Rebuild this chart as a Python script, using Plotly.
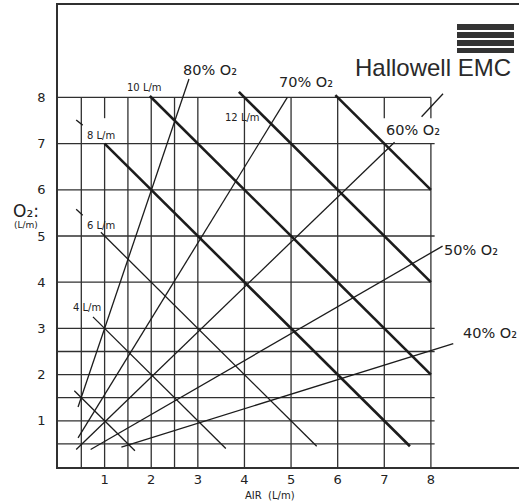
import plotly.graph_objects as go

# ---------------- data ----------------
x_ticks = [1, 2, 3, 4, 5, 6, 7, 8]
y_ticks = [1, 2, 3, 4, 5, 6, 7, 8]
v_grid = [0.5, 1, 1.5, 2, 2.5, 3, 4, 5, 6, 7, 8]
h_grid = [0.5, 1, 1.5, 2, 2.5, 3, 4, 5, 6, 7, 8]
v_gap_lines = [1, 7, 8]          # verticals broken between y=7 and ~7.55
v_gap = [7.0, 7.55]

# total-flow lines (O2 + AIR = total), drawn between x_start and x_end
flow_totals = [2, 4, 6, 8, 10, 12, 14]
flow_x_start = [0.35, 0.75, 0.92, 1.0, 1.97, 3.88, 5.95]
flow_x_end = [1.65, 3.6, 5.55, 7.55, 8.0, 8.0, 8.0]
flow_thick = [False, False, False, True, True, True, True]
flow_labels = ["", "4 L/m", "6 L/m", "8 L/m", "10 L/m", "12 L/m", ""]
flow_label_x = [0, 0.62, 0.92, 0.92, 1.86, 3.96, 0]
flow_label_y = [0, 3.46, 5.23, 7.18, 8.22, 7.57, 0]

# FiO2 lines: start and end points
fio2_names = ["80% O₂", "70% O₂", "60% O₂", "50% O₂", "40% O₂"]
fio2_x0 = [0.43, 0.43, 0.39, 0.70, 1.36]
fio2_y0 = [1.30, 0.63, 0.38, 0.38, 0.43]
fio2_x1 = [2.81, 4.92, 7.22, 8.25, 8.48]
fio2_y1 = [8.40, 8.00, 7.03, 4.78, 2.67]
fio2_label_x = [3.26, 5.32, 7.61, 8.86, 9.26]
fio2_label_y = [8.60, 8.33, 7.29, 4.69, 2.89]

# small hand ticks
tick_marks = [((0.39, 7.51), (0.53, 7.40)), ((0.39, 5.58), (0.53, 5.45)), ((7.80, 7.58), (8.26, 8.08))]

LINE = "#1c1c1c"
GRID = "#303030"
FONT = "DejaVu Sans"

W, H = 519, 503
L, R, T, B = 58, 0, 5, 36
PW, PH = W - L - R, H - T - B

def px(xp, yp):
    """pixel position -> plot-area (paper) fraction"""
    return (xp - L) / PW, (H - B - yp) / PH

fig = go.Figure()

# grid
gx, gy = [], []
for v in v_grid:
    if v in v_gap_lines:
        gx += [v, v, None, v, v, None]
        gy += [0, v_gap[0], None, v_gap[1], 8, None]
    else:
        gx += [v, v, None]
        gy += [0, 8, None]
for h in h_grid:
    end = 8.0 if h in (2, 4, 6, 8) else 8.08
    gx += [0, end, None]
    gy += [h, h, None]
fig.add_trace(go.Scatter(x=gx, y=gy, mode="lines", line=dict(color=GRID, width=1.3),
                         hoverinfo="skip", showlegend=False))

# flow lines
for thick in (False, True):
    lx, ly = [], []
    for t, xs, xe, th in zip(flow_totals, flow_x_start, flow_x_end, flow_thick):
        if th == thick:
            lx += [xs, xe, None]
            ly += [t - xs, t - xe, None]
    fig.add_trace(go.Scatter(x=lx, y=ly, mode="lines",
                             line=dict(color=LINE, width=2.6 if thick else 1.3),
                             hoverinfo="skip", showlegend=False))

# FiO2 lines
fx, fy = [], []
for a, b, c, d in zip(fio2_x0, fio2_y0, fio2_x1, fio2_y1):
    fx += [a, c, None]
    fy += [b, d, None]
for (p, q) in tick_marks:
    fx += [p[0], q[0], None]
    fy += [p[1], q[1], None]
fig.add_trace(go.Scatter(x=fx, y=fy, mode="lines", line=dict(color=LINE, width=1.3),
                         hoverinfo="skip", showlegend=False))

ann = []
for lab, x, y in zip(flow_labels, flow_label_x, flow_label_y):
    if lab:
        ann.append(dict(x=x, y=y, text=lab, showarrow=False, xref="x", yref="y",
                        xanchor="center", yanchor="middle",
                        font=dict(family=FONT, size=10, color="#222")))
for lab, x, y in zip(fio2_names, fio2_label_x, fio2_label_y):
    ann.append(dict(x=x, y=y, text=lab, showarrow=False, xref="x", yref="y",
                    xanchor="center", yanchor="middle",
                    font=dict(family=FONT, size=14.5, color="#222")))

for txt, (xp, yp), size in [("O₂:", (26, 211), 17), ("(L/m)", (26, 225), 9),
                             ("AIR  (L/m)", (270, 495), 10)]:
    X, Y = px(xp, yp)
    ann.append(dict(x=X, y=Y, xref="paper", yref="paper", text=txt, showarrow=False,
                    xanchor="center", yanchor="middle",
                    font=dict(family=FONT, size=size, color="#222")))
X, Y = px(433, 67)
ann.append(dict(x=X, y=Y, xref="paper", yref="paper", text="Hallowell EMC", showarrow=False,
                xanchor="center", yanchor="middle",
                font=dict(family="Liberation Sans", size=24, color="#2a2a2a")))

shapes = []
for y0, y1 in [(24, 30), (32, 38), (40, 46), (48, 53)]:
    X0, Y0 = px(457, y1)
    X1, Y1 = px(514, y0)
    shapes.append(dict(type="rect", xref="paper", yref="paper",
                       x0=X0, x1=X1, y0=Y0, y1=Y1,
                       fillcolor="#333", line=dict(width=0)))

fig.update_layout(
    width=W, height=H,
    margin=dict(l=L, r=R, t=T, b=B),
    paper_bgcolor="white", plot_bgcolor="white",
    annotations=ann, shapes=shapes,
    xaxis=dict(range=[0, 9.89], tickvals=x_ticks, ticktext=[str(v) for v in x_ticks],
               showgrid=False, zeroline=False, showline=True, mirror=True,
               linecolor=GRID, linewidth=1.5, ticks="", ticklabelstandoff=0,
               tickfont=dict(family=FONT, size=13, color="#222")),
    yaxis=dict(range=[0, 10], tickvals=y_ticks, ticktext=[str(v) for v in y_ticks],
               showgrid=False, zeroline=False, showline=True, mirror=False,
               linecolor=GRID, linewidth=1.5, ticks="", ticklabelstandoff=8,
               tickfont=dict(family=FONT, size=13, color="#222")),
)

fig.write_html("out.html", config={"displayModeBar": False},
               post_script="document.body.style.margin='0';document.body.style.overflow='hidden';")
